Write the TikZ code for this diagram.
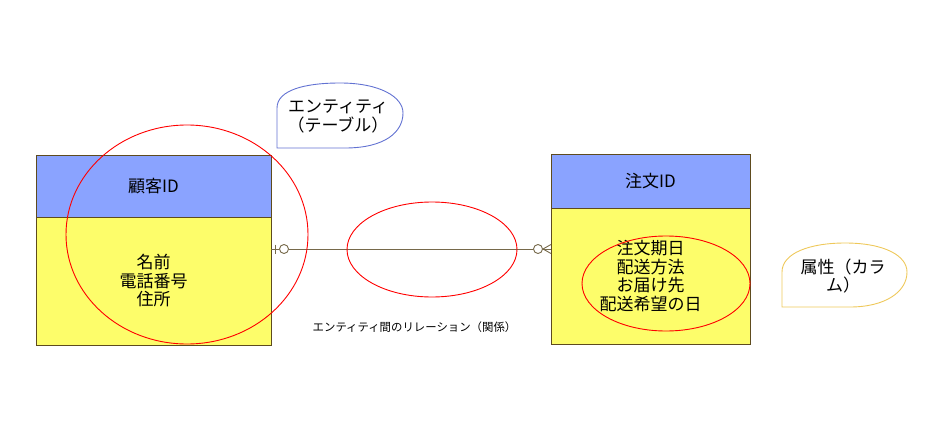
\documentclass[tikz,border=0pt]{standalone}
\usepackage{fontspec}
\setmainfont{Noto Sans CJK JP}
\usetikzlibrary{shapes.geometric}
\definecolor{headblue}{HTML}{8AA3FF}
\definecolor{bodyyellow}{HTML}{FDFD6A}
\definecolor{edgebrown}{HTML}{5E4B1E}
\definecolor{relline}{HTML}{76694A}
\definecolor{noteblue}{HTML}{6272D2}
\definecolor{noteyellow}{HTML}{EEC85A}
\tikzstyle{head}=[rectangle,draw=edgebrown,fill=headblue,inner sep=0pt,font=\fontsize{17}{18.5}\selectfont]
\tikzstyle{attrs}=[rectangle,draw=edgebrown,fill=bodyyellow,inner sep=0pt,align=center,font=\fontsize{17}{18.5}\selectfont]
\tikzstyle{focus}=[ellipse,draw=red,inner sep=0pt]
\tikzstyle{notetext}=[align=center,inner sep=0pt,font=\fontsize{17}{18.5}\selectfont]
\tikzstyle{opt}=[circle,draw=relline,fill=white,minimum size=9pt,inner sep=0pt]

\begin{document}
\begin{tikzpicture}[x=1pt,y=-1pt,line width=0.9pt]
\useasboundingbox (0,0) rectangle (931,433);
% entities
\node[head,minimum width=235pt,minimum height=62pt] at (153.5,186) (kokyaku) {顧客ID};
\node[attrs,minimum width=235pt,minimum height=128pt] at (153.5,281) (kokyakuattr) {名前\\電話番号\\住所};
\node[head,minimum width=199pt,minimum height=54pt] at (650.5,181) (chumon) {注文ID};
\node[attrs,minimum width=199pt,minimum height=136pt] at (650.5,276) (chumonattr) {注文期日\\配送方法\\お届け先\\配送希望の日};
% relation
\coordinate (ra) at (271,249);
\coordinate (rb) at (551,249);
\node[opt] at (284,249) (o1) {};
\node[opt] at (538,249) (o2) {};
\draw[relline] (ra) -- (o1) (o1) -- (o2) (o2) -- (rb);
\draw[relline] (275,244.5) -- (275,253.5);
\draw[relline] (o2.east) -- (551,244.5) (o2.east) -- (551,253.5);
\node[font=\fontsize{11.4}{13}\selectfont] at (414.5,327) (rellabel) {エンティティ間のリレーション（関係）};
% highlights
\node[focus,minimum width=242pt,minimum height=219pt] at (187,234.5) (f1) {};
\node[focus,minimum width=170pt,minimum height=95pt] at (432,249.5) (f2) {};
\node[focus,minimum width=168pt,minimum height=95pt] at (666,283.5) (f3) {};
% callouts
\draw[noteblue] (277,148) -- (277,108) .. controls (277,90) and (305,83) .. (340,83)
  .. controls (380,83) and (403,97) .. (403,113) .. controls (403,132) and (385,148) .. (345,148) -- cycle;
\node[notetext] at (338,116.5) (n1) {エンティティ\\（テーブル）};
\draw[noteyellow] (782,307) -- (782,272) .. controls (782,253) and (810,243) .. (845,243)
  .. controls (885,243) and (907,256) .. (907,272) .. controls (907,292) and (885,307) .. (850,307) -- cycle;
\node[notetext] at (843,276) (n2) {属性（カラ\\ム）};
\end{tikzpicture}
\end{document}
